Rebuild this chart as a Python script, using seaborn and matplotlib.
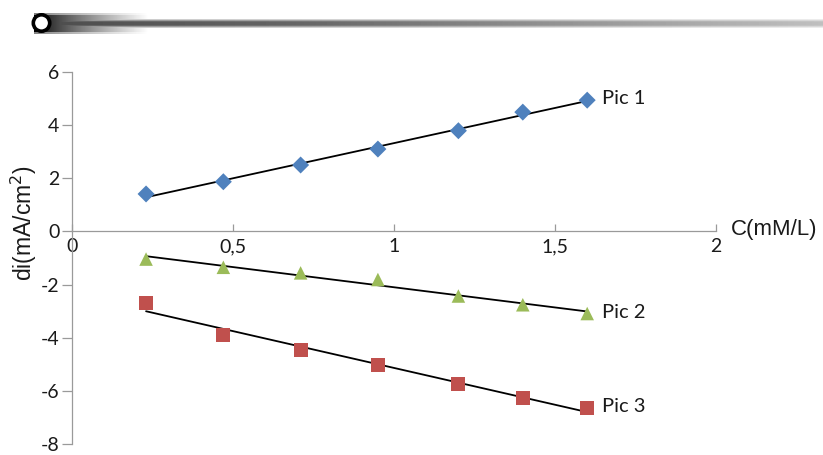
import numpy as np
import pandas as pd
import matplotlib
matplotlib.use("Agg")
import matplotlib.pyplot as plt
from matplotlib.patches import Circle
import seaborn as sns

# concentration (mM/L) and current differences (mA/cm2)
conc = [0.23, 0.47, 0.71, 0.95, 1.20, 1.40, 1.60]
pic1 = [1.41, 1.87, 2.50, 3.10, 3.79, 4.49, 4.94]
pic2 = [-1.04, -1.35, -1.56, -1.81, -2.43, -2.76, -3.09]
pic3 = [-2.71, -3.89, -4.45, -5.03, -5.75, -6.27, -6.64]

series_names = ["Pic 1", "Pic 2", "Pic 3"]
series_vals = [pic1, pic2, pic3]
colors = ["#4F81BD", "#9BBB59", "#C0504D"]
markers = ["D", "^", "s"]
sizes = [75, 95, 100]

xticks = [0, 0.5, 1, 1.5, 2]
xtick_labels = ["0", "0,5", "1", "1,5", "2"]
yticks = [-8, -6, -4, -2, 0, 2, 4, 6]

df = pd.DataFrame({
    "C": conc * 3,
    "di": pic1 + pic2 + pic3,
    "pic": [n for n in series_names for _ in conc],
})

sns.set_style("white")
plt.rcParams["axes.unicode_minus"] = False
plt.rcParams["font.family"] = ["Lato", "DejaVu Sans"]

W, H = 823, 455
fig = plt.figure(figsize=(W / 100, H / 100), dpi=100)

# top decoration: gradient band with a ring
deco = fig.add_axes([0, 1 - 45 / H, 1, 45 / H])
img = np.ones((45, W))
band_x = np.arange(W)
band = np.clip((band_x - 34) / 114.0, 0, 1) ** 0.8
band[band_x < 34] = 1
for r in range(13, 34):
    edge = 1.0 if 15 <= r <= 31 else 0.5
    img[r] = np.minimum(img[r], 1 - (1 - band) * edge)
line = np.interp(band_x, [40, 300, 823], [0.3, 0.4, 0.75])
line[band_x < 40] = 1
for r, k in zip(range(19, 28), [0.3, 0.6, 0.9, 1, 1, 1, 0.9, 0.6, 0.3]):
    img[r] = np.minimum(img[r], 1 - (1 - line) * k)
deco.imshow(img, cmap="gray", vmin=0, vmax=1, extent=(0, W, 45, 0), aspect="auto")
deco.add_patch(Circle((41.5, 23), 8.2, facecolor="white", edgecolor="black", lw=2.6))
deco.set_xlim(0, W)
deco.set_ylim(45, 0)
deco.axis("off")

ax = fig.add_axes([72 / W, 11 / H, (716 - 72) / W, (444 - 72) / H])

for name, vals, c, m, s in zip(series_names, series_vals, colors, markers, sizes):
    sub = df[df["pic"] == name]
    sns.regplot(data=sub, x="C", y="di", ax=ax, scatter=False, ci=None,
                color="black", line_kws={"lw": 1.3}, truncate=True)
    sns.scatterplot(data=sub, x="C", y="di", ax=ax, marker=m, s=s, color=c,
                    edgecolor="none", zorder=3, legend=False)
    ax.annotate(name, xy=(conc[-1], vals[-1]), xytext=(11, 1),
                textcoords="offset points", va="center", ha="left",
                fontsize=14.5, color="#1a1a1a")

ax.set_xlim(0, 2)
ax.set_ylim(-8, 6)
ax.set_xticks(xticks)
ax.set_xticklabels(xtick_labels)
ax.set_yticks(yticks)
ax.set_yticklabels([str(v) for v in yticks])

for side in ["top", "right"]:
    ax.spines[side].set_visible(False)
ax.spines["bottom"].set_position(("data", 0))
for side in ["left", "bottom"]:
    ax.spines[side].set_color("#9a9a9a")
    ax.spines[side].set_linewidth(0.9)

ax.tick_params(axis="x", direction="in", length=5, width=0.9, color="#9a9a9a",
               labelsize=14, pad=5, labelcolor="#1a1a1a")
ax.tick_params(axis="y", direction="out", length=7, width=0.9, color="#9a9a9a",
               labelsize=14, pad=2, labelcolor="#1a1a1a")
ax.tick_params(left=True, bottom=True)

ax.set_xlabel("C(mM/L)", fontsize=16, family=["Liberation Sans", "DejaVu Sans"],
              ha="left", va="center", color="#1a1a1a")
ax.xaxis.set_label_coords(1.023, 0.577)
ax.set_ylabel("di(mA/cm$^2$)", fontsize=16.5, family=["Liberation Sans", "DejaVu Sans"],
              va="center", color="#1a1a1a")
ax.yaxis.set_label_coords(-0.075, 0.593)

fig.savefig("out.png", dpi=100)
